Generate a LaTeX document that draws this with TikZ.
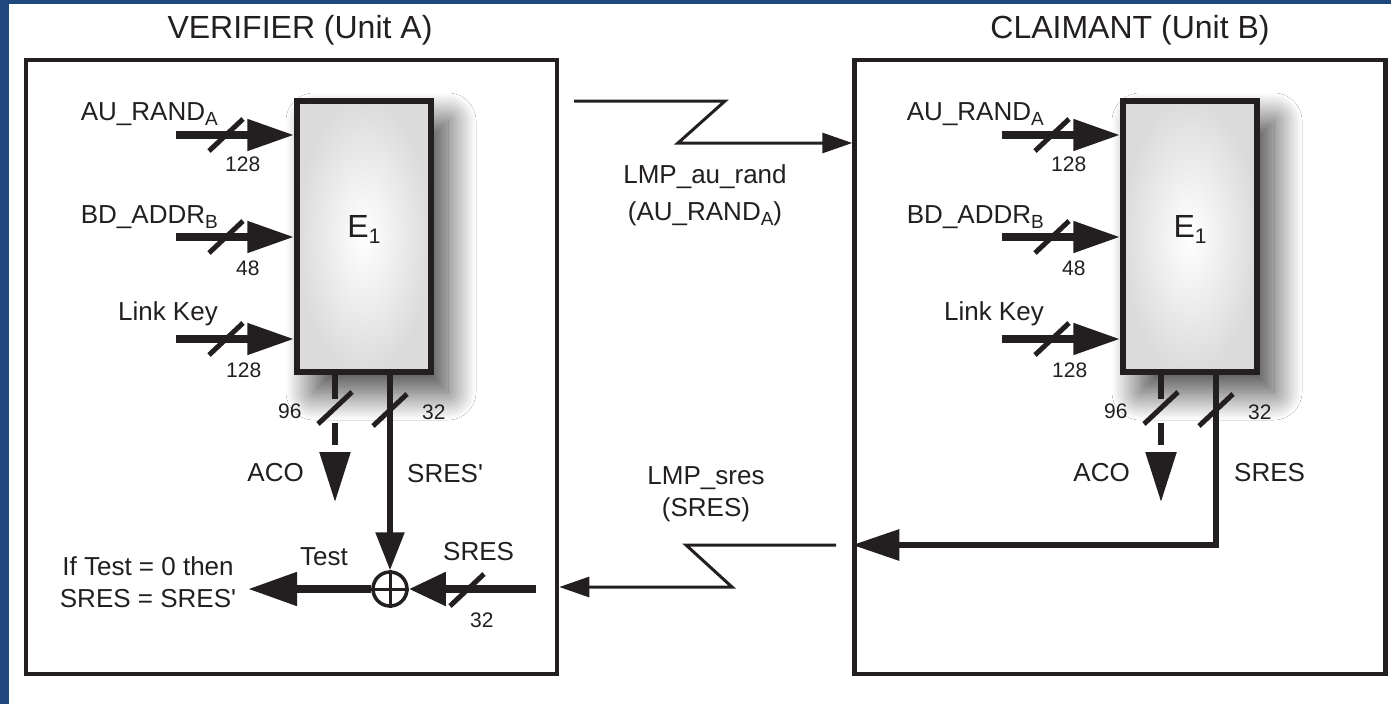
\documentclass[tikz,border=0pt]{standalone}
\usepackage{fontspec}
\setmainfont{Liberation Sans}[Ligatures=TeXOff]
\usetikzlibrary{arrows.meta,shadows.blur}
\definecolor{ink}{HTML}{231F20}
\definecolor{frameblue}{RGB}{31,73,125}
\newcommand{\sbs}[1]{\raisebox{-5pt}{\fontsize{19}{19}\selectfont #1}}
\newcommand{\encblock}[2]{%
\begin{scope}[xshift=#2]
\node[eblock] (#1E) at (364,236.5) {E\raisebox{-6pt}{\fontsize{21}{21}\selectfont 1}};
\coordinate (#1inA) at (176,135);
\coordinate (#1inB) at (176,237);
\coordinate (#1inC) at (176,339);
\draw[inarrow] (#1inA) -- (#1inA -| #1E.west);
\draw[inarrow] (#1inB) -- (#1inB -| #1E.west);
\draw[inarrow] (#1inC) -- (#1inC -| #1E.west);
\draw[slash] (226,135) +(-17,16) -- +(17,-16);
\draw[slash] (226,237) +(-17,16) -- +(17,-16);
\draw[slash] (226,339) +(-17,16) -- +(17,-16);
\node[lbl, anchor=base east] (#1labA) at (218,120) {AU\_RAND\sbs{A}};
\node[lbl, anchor=base east] (#1labB) at (218,223) {BD\_ADDR\sbs{B}};
\node[lbl, anchor=base east] (#1labC) at (218,320) {Link Key};
\node[num, anchor=base west] (#1nA) at (225,171) {128};
\node[num, anchor=base west] (#1nB) at (236,275) {48};
\node[num, anchor=base west] (#1nC) at (226,377) {128};
\coordinate (#1aco) at (335,502);
\draw[acoarrow] (#1E.south -| #1aco) -- (#1aco);
\draw[slash] (335,408) +(-17,16) -- +(17,-16);
\node[num, anchor=base west] (#1n96) at (278,418) {96};
\node[num, anchor=base west] (#1n32) at (422,419) {32};
\node[lbl, anchor=base east] (#1acolab) at (304,481) {ACO};
\end{scope}}
\begin{document}
\begin{tikzpicture}[x=1pt,y=-1pt, ink, text=ink,
  lbl/.style={font=\fontsize{26}{30}\selectfont, inner sep=0pt},
  num/.style={font=\fontsize{21}{24}\selectfont, inner sep=0pt},
  ttl/.style={font=\fontsize{32}{36}\selectfont, inner sep=0pt},
  unitbox/.style={draw=ink, line width=4.5pt, minimum width=531pt, minimum height=614pt, inner sep=0pt},
  eblock/.style={draw=ink, line width=5.5pt, minimum width=134pt, minimum height=271pt, inner sep=0pt,
    inner color=white, outer color=black!14, text height=12pt, text depth=11pt,
    blur shadow={shadow xshift=17pt, shadow yshift=-20pt, shadow blur radius=28pt, shadow blur steps=40, shadow opacity=75},
    font=\fontsize{32}{36}\selectfont},
  inarrow/.style={draw=ink, line width=8pt, -{Triangle[length=47pt,width=30pt]}},
  acoarrow/.style={draw=ink, line width=5.5pt, dash pattern=on 24pt off 24pt on 22pt off 10pt, -{Triangle[length=50pt,width=30pt]}},
  sresarrow/.style={draw=ink, line width=5.5pt, -{Triangle[length=38pt,width=28pt]}},
  testarrow/.style={draw=ink, line width=8pt, -{Triangle[length=49pt,width=32pt]}},
  sresin/.style={draw=ink, line width=8pt, -{Triangle[length=37pt,width=32pt]}},
  rsres/.style={draw=ink, line width=6pt, -{Triangle[length=47pt,width=30pt]}},
  thinarrow/.style={draw=ink, line width=3pt, -{Triangle[length=30pt,width=20pt]}},
  slash/.style={draw=ink, line width=5pt},
  xor/.style={circle, draw=ink, line width=3.5pt, minimum size=34pt, inner sep=0pt, fill=white}
]
\useasboundingbox (0,0) rectangle (1391,704);
\fill[white] (0,0) rectangle (1391,704);
\fill[frameblue] (0,0) rectangle (9,704);
\fill[frameblue] (0,0) rectangle (1391,4);

\node[unitbox] (boxA) at (291.5,367) {};
\node[unitbox] (boxB) at (1120,367) {};
\node[ttl, anchor=base] (ttlA) at (300,38) {VERIFIER (Unit A)};
\node[ttl, anchor=base] (ttlB) at (1130,38) {CLAIMANT (Unit B)};

\encblock{a}{0pt}
\encblock{b}{826pt}

% verifier comparison
\node[xor] (xor) at (390,589) {};
\draw[line width=3pt] (xor.north) -- (xor.south) (xor.west) -- (xor.east);
\draw[sresarrow] (aE.south -| xor) -- (xor.north);
\draw[slash] (390,410) +(-17,16) -- +(17,-16);
\node[lbl, anchor=base west] (sresp) at (407,482) {SRES'};
\coordinate (testend) at (248,589);
\draw[testarrow] (xor.west) -- (testend);
\node[lbl, anchor=base west] (testlab) at (300,565) {Test};
\coordinate (sresstart) at (536,589);
\draw[sresin] (sresstart) -- (xor.east);
\draw[slash] (467,590) +(-17,16) -- +(17,-16);
\node[lbl, anchor=base west] (sreslab) at (443,560) {SRES};
\node[num, anchor=base west] (n32c) at (470,627) {32};
\node[lbl, align=center, font=\fontsize{26}{32}\selectfont] (result) at (148,582.5) {If Test = 0 then\\SRES = SRES'};

% claimant SRES out
\draw[slash] (1216,410) +(-17,16) -- +(17,-16);
\coordinate (bcorner) at (1216,545);
\draw[rsres] (bE.south -| bcorner) -- (bcorner) -- (bcorner -| boxB.west);
\node[lbl, anchor=base west] (sresb) at (1234,481) {SRES};

% air channels
\coordinate (tA) at (574,101);
\coordinate (tB) at (725,101);
\coordinate (tC) at (678,143);
\draw[thinarrow] (tA) -- (tB) -- (tC) -- (tC -| boxB.west);
\node[lbl, align=center, font=\fontsize{26}{37}\selectfont] (lmprand) at (705,195.5) {LMP\_au\_rand\\(AU\_RAND\sbs{A})};
\coordinate (sA) at (836,545);
\coordinate (sB) at (686,545);
\coordinate (sC) at (732,587);
\draw[thinarrow] (sA) -- (sB) -- (sC) -- (sC -| boxA.east);
\node[lbl, align=center, font=\fontsize{26}{32}\selectfont] (lmpsres) at (706,494) {LMP\_sres\\(SRES)};
\end{tikzpicture}
\end{document}
